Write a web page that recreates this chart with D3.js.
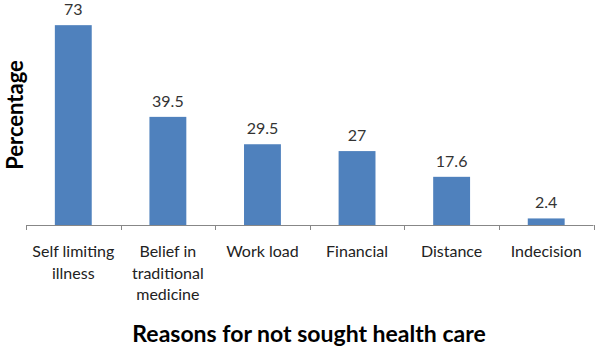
<!DOCTYPE html>
<html><head><meta charset="utf-8">
<script src="https://cdn.jsdelivr.net/npm/d3@7"></script>
<style>body{margin:0;background:#fff}</style>
</head><body>
<svg id="c" width="596" height="350"></svg>
<script>
const categories = [["Self limiting","illness"],["Belief in","traditional","medicine"],["Work load"],["Financial"],["Distance"],["Indecision"]];
const values = [73, 39.5, 29.5, 27, 17.6, 2.4];
const valueLabels = ["73","39.5","29.5","27","17.6","2.4"];

const svg = d3.select("#c");
const font = "Lato, 'Liberation Sans', sans-serif";
const x = d3.scaleBand().domain(d3.range(values.length)).range([26, 593.5]).padding(0);
const y = d3.scaleLinear().domain([0, 80]).range([225, 6]);
const barW = x.bandwidth() * 0.39;

svg.selectAll("rect.bar").data(values).join("rect")
  .attr("x", (d,i) => x(i) + (x.bandwidth()-barW)/2)
  .attr("y", d => y(d))
  .attr("width", barW)
  .attr("height", d => y(0) - y(d))
  .attr("fill", "#4F81BD");

svg.selectAll("text.val").data(values).join("text")
  .attr("x", (d,i) => x(i) + x.bandwidth()/2)
  .attr("y", d => y(d) - 10)
  .attr("text-anchor", "middle")
  .attr("font-family", font).attr("font-size", 16).attr("fill", "#333")
  .text((d,i) => valueLabels[i]);

// axis
const ax = svg.append("g");
ax.append("line").attr("x1", 26).attr("x2", 593.5).attr("y1", 225.5).attr("y2", 225.5)
  .attr("stroke", "#878787").attr("stroke-width", 1);
const bounds = d3.range(values.length + 1).map(i => i < values.length ? x(i) : x(values.length-1) + x.bandwidth());
ax.selectAll("line.tick").data(bounds).join("line")
  .attr("x1", d => Math.round(d)+0.5).attr("x2", d => Math.round(d)+0.5)
  .attr("y1", 225).attr("y2", 230).attr("stroke", "#878787");

categories.forEach((lines, i) => {
  const t = svg.append("text").attr("text-anchor", "middle")
    .attr("font-family", font).attr("font-size", 16).attr("fill", "#222");
  lines.forEach((l, j) => {
    t.append("tspan").attr("x", x(i) + x.bandwidth()/2).attr("y", 257 + j*21.5).text(l);
  });
});

svg.append("text").attr("x", 309).attr("y", 342).attr("text-anchor", "middle")
  .attr("font-family", font).attr("font-size", 23).attr("font-weight", "bold").attr("fill", "#000")
  .text("Reasons for not sought health care");

svg.append("text").attr("transform", "translate(22.5,115) rotate(-90)").attr("text-anchor", "middle")
  .attr("font-family", font).attr("font-size", 22).attr("font-weight", "bold").attr("fill", "#000")
  .text("Percentage");
</script>
</body></html>
